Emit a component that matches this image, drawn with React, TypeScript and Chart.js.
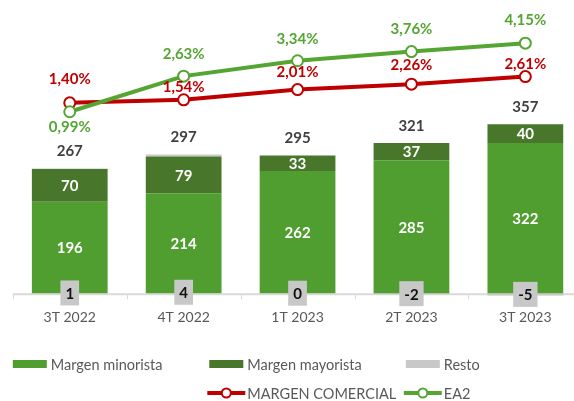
import React, { useEffect, useRef } from "react";
import { Chart, registerables } from "chart.js";
Chart.register(...registerables);

const categories = ["3T 2022", "4T 2022", "1T 2023", "2T 2023", "3T 2023"];
const margenMinorista = [196, 214, 262, 285, 322];
const margenMayorista = [70, 79, 33, 37, 40];
const resto = [1, 4, 0, -2, -5];
const totals = [267, 297, 295, 321, 357];
const margenComercial = [1.4, 1.54, 2.01, 2.26, 2.61];
const ea2 = [0.99, 2.63, 3.34, 3.76, 4.15];

const seriesNames = ["Margen minorista", "Margen mayorista", "Resto", "MARGEN COMERCIAL", "EA2"];

// vertical label offsets (px) for the line labels
const mcLabelDy = [-24, -13, -17, -19, -12];
const ea2LabelDy = [15, -22, -22, -22, -23];

const FONT = "Lato, 'Open Sans', sans-serif";
const C_MIN = "#509E2F";
const C_MAY = "#48762A";
const C_RESTO = "#C8C8C8";
const C_RED = "#C00000";
const C_GREEN = "#54A532";

const fmtPct = (v: number) => v.toFixed(2).replace(".", ",") + "%";

const labelsPlugin = {
  id: "customLabels",
  beforeDatasetsDraw(chart: any) {
    const { ctx, chartArea, scales } = chart;
    const y0 = scales.y.getPixelForValue(0);
    ctx.save();
    ctx.strokeStyle = "#D9D9D9";
    ctx.lineWidth = 2;
    ctx.beginPath();
    ctx.moveTo(chartArea.left, y0 + 1);
    ctx.lineTo(chartArea.right, y0 + 1);
    ctx.stroke();
    const n = categories.length;
    const step = (chartArea.right - chartArea.left) / n;
    ctx.lineWidth = 1;
    for (let i = 0; i <= n; i++) {
      const x = Math.round(chartArea.left + i * step) + 0.5;
      ctx.beginPath();
      ctx.moveTo(x, y0 + 1);
      ctx.lineTo(x, y0 + 6);
      ctx.stroke();
    }
    ctx.restore();
  },
  afterDatasetsDraw(chart: any) {
    const { ctx, scales } = chart;
    ctx.save();
    ctx.textAlign = "center";
    ctx.textBaseline = "middle";
    ctx.font = `bold 15px ${FONT}`;
    const m0 = chart.getDatasetMeta(0).data;
    const m1 = chart.getDatasetMeta(1).data;
    const m3 = chart.getDatasetMeta(3).data;
    const m4 = chart.getDatasetMeta(4).data;
    for (let i = 0; i < categories.length; i++) {
      ctx.fillStyle = "#FFFFFF";
      const a = m0[i];
      ctx.fillText(String(margenMinorista[i]), a.x, (a.y + a.base) / 2 + 1);
      const b = m1[i];
      ctx.fillText(String(margenMayorista[i]), b.x, (b.y + b.base) / 2 + 1);
      // resto box near baseline
      const txt = String(resto[i]);
      const w = ctx.measureText(txt).width + 10;
      const h = 25;
      const cy = scales.y.getPixelForValue(resto[i] / 2);
      ctx.fillStyle = C_RESTO;
      ctx.fillRect(a.x - w / 2, cy - h / 2, w, h);
      ctx.fillStyle = "#111111";
      ctx.fillText(txt, a.x, cy + 1);
      // total
      const pos = margenMinorista[i] + margenMayorista[i] + Math.max(resto[i], 0);
      const ty = scales.y.getPixelForValue(pos) - 17;
      ctx.fillStyle = "#404040";
      ctx.fillText(String(totals[i]), a.x, ty);
      // line labels
      const p = m3[i];
      ctx.fillStyle = C_RED;
      ctx.fillText(fmtPct(margenComercial[i]), p.x, p.y + mcLabelDy[i]);
      const q = m4[i];
      ctx.fillStyle = C_GREEN;
      ctx.fillText(fmtPct(ea2[i]), q.x, q.y + ea2LabelDy[i]);
    }
    ctx.restore();
  },
  afterDraw(chart: any) {
    const { ctx, chartArea } = chart;
    ctx.save();
    ctx.font = `14.5px ${FONT}`;
    ctx.textBaseline = "middle";
    ctx.textAlign = "left";
    const left = chartArea.left;
    const colW = 196.5;
    const row1 = 364;
    const row2 = 393;
    const boxes = [C_MIN, C_MAY, C_RESTO];
    for (let k = 0; k < 3; k++) {
      const x = left + k * colW;
      ctx.fillStyle = boxes[k];
      ctx.fillRect(x, row1 - 4, 34, 8);
      ctx.fillStyle = "#595959";
      ctx.fillText(seriesNames[k], x + 38, row1 + 1);
    }
    const lines = [C_RED, C_GREEN];
    for (let k = 0; k < 2; k++) {
      const x = left + (k + 1) * colW - 2;
      ctx.strokeStyle = lines[k];
      ctx.lineWidth = 4;
      ctx.beginPath();
      ctx.moveTo(x, row2);
      ctx.lineTo(x + 38, row2);
      ctx.stroke();
      ctx.beginPath();
      ctx.arc(x + 19, row2, 4.5, 0, Math.PI * 2);
      ctx.fillStyle = "#FFFFFF";
      ctx.fill();
      ctx.lineWidth = 2;
      ctx.stroke();
      ctx.fillStyle = "#595959";
      ctx.fillText(seriesNames[k + 3], x + 40, row2 + 1);
    }
    ctx.restore();
  },
};

export default function App() {
  const ref = useRef<HTMLCanvasElement | null>(null);
  useEffect(() => {
    if (!ref.current) return;
    const chart = new Chart(ref.current, {
      type: "bar",
      data: {
        labels: categories,
        datasets: [
          { type: "bar", label: seriesNames[0], data: margenMinorista, backgroundColor: C_MIN, yAxisID: "y", stack: "s", order: 2, barPercentage: 0.665, categoryPercentage: 1 },
          { type: "bar", label: seriesNames[1], data: margenMayorista, backgroundColor: C_MAY, yAxisID: "y", stack: "s", order: 2, barPercentage: 0.665, categoryPercentage: 1 },
          { type: "bar", label: seriesNames[2], data: resto, backgroundColor: C_RESTO, yAxisID: "y", stack: "s", order: 2, barPercentage: 0.665, categoryPercentage: 1 },
          { type: "line", label: seriesNames[3], data: margenComercial, borderColor: C_RED, backgroundColor: "#FFFFFF", borderWidth: 4, pointRadius: 5.5, pointBorderWidth: 2, pointBackgroundColor: "#FFFFFF", pointBorderColor: C_RED, yAxisID: "y2", order: 1, tension: 0 },
          { type: "line", label: seriesNames[4], data: ea2, borderColor: C_GREEN, backgroundColor: "#FFFFFF", borderWidth: 4, pointRadius: 5.5, pointBorderWidth: 2, pointBackgroundColor: "#FFFFFF", pointBorderColor: C_GREEN, yAxisID: "y2", order: 0, tension: 0 },
        ] as any,
      },
      options: {
        animation: false,
        responsive: true,
        maintainAspectRatio: false,
        layout: { padding: { top: 20, left: 12.8, right: 7.7, bottom: 63 } },
        plugins: { legend: { display: false }, tooltip: { enabled: false } },
        scales: {
          x: {
            stacked: true,
            grid: { display: false, drawTicks: false },
            border: { display: false },
            ticks: { color: "#595959", font: { family: FONT, size: 14 }, padding: 12 },
          },
          y: { stacked: true, display: false, min: -8.55, max: 585.5 },
          y2: { display: false, min: -7.554, max: 5.216, position: "right" },
        },
      },
      plugins: [labelsPlugin],
    });
    return () => chart.destroy();
  }, []);
  return (
    <div style={{ position: "fixed", left: 0, top: 0, width: 574, height: 401, overflow: "hidden", background: "#fff" }}>
      <div style={{ position: "relative", width: 590, height: 401 }}>
        <canvas ref={ref} />
      </div>
    </div>
  );
}
